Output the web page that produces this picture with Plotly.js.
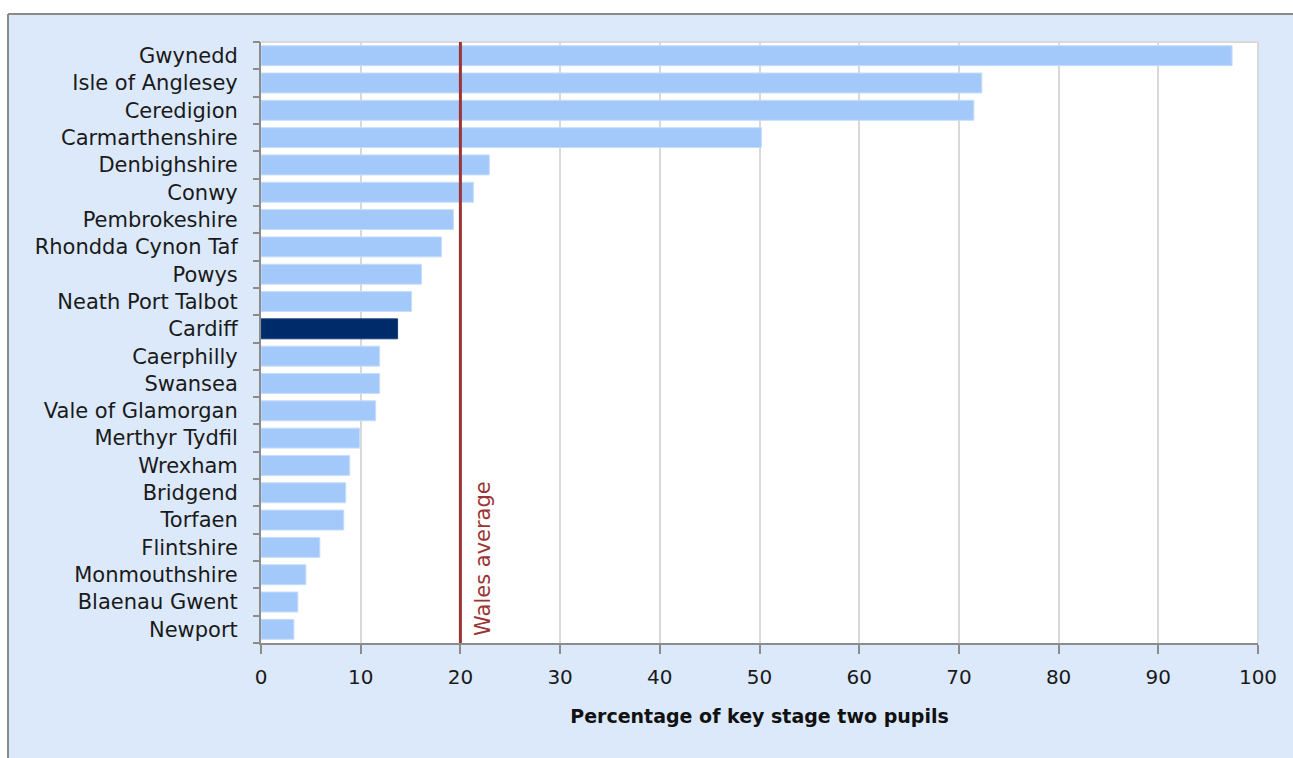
<!DOCTYPE html>
<html><head><meta charset="utf-8">
<script src="https://cdn.plot.ly/plotly-3.0.1.min.js"></script>
<style>html,body{margin:0;padding:0;background:#fff;}</style>
</head><body>
<div id="chart" style="width:1293px;height:758px;"></div>
<script>
const categories = ["Gwynedd","Isle of Anglesey","Ceredigion","Carmarthenshire","Denbighshire","Conwy","Pembrokeshire","Rhondda Cynon Taf","Powys","Neath Port Talbot","Cardiff","Caerphilly","Swansea","Vale of Glamorgan","Merthyr Tydfil","Wrexham","Bridgend","Torfaen","Flintshire","Monmouthshire","Blaenau Gwent","Newport"];
const values = [97.4,72.3,71.5,50.2,22.9,21.3,19.3,18.1,16.1,15.1,13.7,11.9,11.9,11.5,9.9,8.9,8.5,8.3,5.9,4.5,3.7,3.3];
const highlight = "Cardiff";
const walesAverage = 20;
const xTicks = [0,10,20,30,40,50,60,70,80,90,100];

const colors = categories.map(c => c === highlight ? "#002B6B" : "#A3C9FB");
const lineColors = categories.map(c => c === highlight ? "#1a3f7a" : "#C6DDFB");
const n = categories.length;
const boundaries = [];
for (let i = 0; i <= n; i++) boundaries.push(i - 0.5);

const L = 261, R = 1258, T = 42, B = 643, W = 1293, H = 758;
const pw = R - L, ph = B - T;
const px = v => (v - L) / pw;
const py = v => (B - v) / ph;
const FONT = "DejaVu Sans, Verdana, sans-serif";

const trace = {
  type: "bar", orientation: "h",
  x: values, y: categories,
  marker: {color: colors, line: {color: lineColors, width: 1}},
  hoverinfo: "x+y"
};
const tickTrace = {
  type: "scatter", mode: "markers", x: [null], y: [null],
  xaxis: "x", yaxis: "y2", showlegend: false, hoverinfo: "skip"
};

const layout = {
  width: W, height: H,
  margin: {l: L, r: W - R, t: T, b: H - B, pad: 0},
  paper_bgcolor: "#DCE9FB",
  plot_bgcolor: "#FFFFFF",
  showlegend: false,
  bargap: 0.27,
  font: {family: FONT, color: "#1a1a1a"},
  xaxis: {
    range: [0, 100], tickvals: xTicks, ticktext: xTicks.map(String),
    showgrid: true, gridcolor: "#D9D9D9", gridwidth: 2,
    zeroline: false,
    showline: true, linecolor: "#8C8C8C", linewidth: 2,
    ticks: "outside", ticklen: 9, tickwidth: 2, tickcolor: "#8C8C8C",
    ticklabelstandoff: 6,
    tickfont: {family: FONT, size: 20, color: "#1a1a1a"},
    title: {text: "<b>Percentage of key stage two pupils</b>", font: {family: FONT, size: 19, color: "#111"}, standoff: 22},
    fixedrange: true
  },
  yaxis: {
    type: "category", categoryorder: "array", categoryarray: categories,
    range: [n - 0.5, -0.5],
    showgrid: false, zeroline: false,
    showline: true, linecolor: "#8C8C8C", linewidth: 2,
    ticks: "", ticklabelstandoff: 17,
    tickfont: {family: FONT, size: 21, color: "#1a1a1a"},
    fixedrange: true
  },
  yaxis2: {
    overlaying: "y", anchor: "x", side: "left",
    range: [n - 0.5, -0.5],
    tickvals: boundaries, showticklabels: false,
    ticks: "outside", ticklen: 7, tickwidth: 2, tickcolor: "#8C8C8C",
    showgrid: false, zeroline: false, showline: false,
    fixedrange: true
  },
  shapes: [
    {type: "rect", xref: "paper", yref: "paper", x0: px(0), x1: px(W + 5), y0: py(0) + 0.01, y1: py(14), fillcolor: "#FFFFFF", line: {width: 0}, layer: "below"},
    {type: "rect", xref: "paper", yref: "paper", x0: px(-5), x1: px(8), y0: py(H + 5), y1: py(-5), fillcolor: "#FFFFFF", line: {width: 0}, layer: "below"},
    {type: "line", xref: "paper", yref: "paper", x0: px(8), x1: px(W + 5), y0: py(14), y1: py(14), line: {color: "#8A8A8A", width: 2}, layer: "below"},
    {type: "line", xref: "paper", yref: "paper", x0: px(8), x1: px(8), y0: py(14), y1: py(H + 5), line: {color: "#8A8A8A", width: 2}, layer: "below"},
    {type: "line", xref: "paper", yref: "paper", x0: 0, x1: 1, y0: 1, y1: 1, line: {color: "#D9D9D9", width: 2}, layer: "below"},
    {type: "line", xref: "paper", yref: "paper", x0: 1, x1: 1, y0: 0, y1: 1, line: {color: "#D9D9D9", width: 2}, layer: "below"},
    {type: "line", xref: "x", yref: "paper", x0: walesAverage, x1: walesAverage, y0: 0, y1: 1, line: {color: "#9B3535", width: 3}, layer: "above"}
  ],
  annotations: [
    {xref: "x", yref: "paper", x: walesAverage, y: 0, xanchor: "left", yanchor: "bottom",
     xshift: 8, yshift: 5, text: "Wales average", textangle: -90, showarrow: false,
     font: {family: FONT, size: 21, color: "#9B3535"}}
  ]
};

Plotly.newPlot("chart", [trace, tickTrace], layout, {displayModeBar: false, staticPlot: true});
</script>
</body></html>
